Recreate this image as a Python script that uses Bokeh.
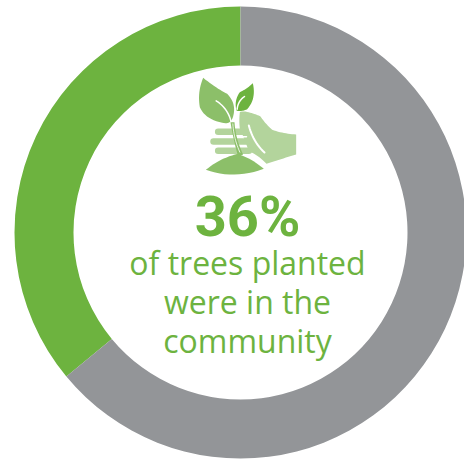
from math import pi
from bokeh.plotting import figure
from bokeh.models import ColumnDataSource
from bokeh.core.properties import value
from bokeh.embed import file_html
from bokeh.resources import INLINE

# Share of trees planted, by location
labels = ["in the community", "elsewhere"]
shares = [36, 64]
colors = ["#6DB33F", "#939598"]
headline = "36%"
caption = ["of trees planted", "were in the", "community"]

W, H = 464, 459
CX, CY = 240, H - 232
R_OUT, R_IN = 226, 167

p = figure(width=W, height=H, x_range=(0, W), y_range=(0, H),
           output_backend="svg", toolbar_location=None,
           min_border=0, outline_line_color=None, background_fill_color="white",
           border_fill_color="white")
p.axis.visible = False
p.grid.visible = False

# Ring runs counter-clockwise from twelve o'clock
start = []
end = []
a = pi / 2
for s in shares:
    start.append(a)
    a += s / sum(shares) * 2 * pi
    end.append(a)
ring = ColumnDataSource(dict(label=labels, start=start, end=end, color=colors))
p.annular_wedge(x=CX, y=CY, inner_radius=R_IN, outer_radius=R_OUT,
                start_angle="start", end_angle="end", fill_color="color",
                line_color=None, source=ring)


def path(segments):
    """Sample quadratic curves given as (p0, control, p1) in icon units."""
    xs, ys = [], []
    for a0, c, b in segments:
        for i in range(13):
            t = i / 12
            xs.append((1 - t) ** 2 * a0[0] + 2 * (1 - t) * t * c[0] + t ** 2 * b[0])
            ys.append((1 - t) ** 2 * a0[1] + 2 * (1 - t) * t * c[1] + t ** 2 * b[1])
    return [180 + x / 3 for x in xs], [H - (60 + y / 3) for y in ys]


def fill(segments, color):
    xs, ys = path(segments)
    p.patch(xs, ys, fill_color=color, line_color=None)


def stroke(segments, color, width):
    xs, ys = path(segments)
    p.line(xs, ys, line_color=color, line_width=width, line_cap="round")


LEAF = "#8CBF69"
DARK = "#6DB33F"
HAND = "#B3D49C"

# Hand: palm and wrist
fill([((178, 155), (182, 152), (195, 153)), ((195, 153), (225, 160), (240, 168)),
      ((240, 168), (255, 190), (275, 208)), ((275, 208), (310, 220), (347, 222)),
      ((347, 222), (347, 252), (347, 282)), ((347, 282), (300, 296), (258, 310)),
      ((258, 310), (235, 285), (205, 272)), ((205, 272), (190, 230), (178, 205)),
      ((178, 205), (175, 180), (178, 155))], HAND)
# Fingers
for y0, x0, x1 in [(214, 113, 215), (243, 99, 200), (271, 113, 205)]:
    xs, ys = path([((x0, y0), ((x0 + x1) / 2, y0), (x1, y0))])
    p.line(xs, ys, line_color=HAND, line_width=6.5, line_cap="round")
stroke([((112, 229), (150, 229), (198, 229))], "white", 1.5)
stroke([((112, 257), (150, 257), (192, 257))], "white", 1.5)
stroke([((205, 195), (218, 245), (252, 276))], "white", 2)

# Soil
fill([((76, 328), (120, 292), (172, 280)), ((172, 280), (215, 295), (250, 325)),
      ((250, 325), (160, 358), (76, 328))], LEAF)

# Large leaf with its stem and vein
fill([((68, 52), (110, 85), (140, 100)), ((140, 100), (165, 125), (160, 158)),
      ((160, 158), (155, 190), (135, 188)), ((135, 188), (75, 180), (58, 140)),
      ((58, 140), (50, 95), (68, 52))], LEAF)
stroke([((107, 121), (145, 145), (153, 190))], "white", 1.5)
# Stem
fill([((150, 185), (158, 235), (172, 285)), ((172, 285), (180, 285), (188, 282)),
      ((188, 282), (165, 235), (162, 185)), ((162, 185), (156, 185), (150, 185))], LEAF)
stroke([((157, 190), (160, 235), (178, 275))], "white", 0.8)

# Small leaf
fill([((217, 68), (228, 115), (200, 146)), ((200, 146), (180, 155), (168, 150)),
      ((168, 150), (160, 120), (178, 95)), ((178, 95), (200, 85), (217, 68))], DARK)
stroke([((170, 146), (172, 122), (192, 108))], "white", 1.5)

# Centre text
p.text(x=[CX + 7], y=[H - 216], text=[headline], text_color=DARK, text_font=value("Roboto"),
       text_font_style="bold", text_font_size="56px", text_align="center", text_baseline="middle")
p.text(x=[CX + 7, CX + 7, CX + 7], y=[H - 262, H - 301, H - 340], text=caption, text_color=DARK,
       text_font=value("Open Sans"), text_font_size="32px", text_align="center",
       text_baseline="middle")

open("out.html", "w").write(file_html(p, INLINE))
